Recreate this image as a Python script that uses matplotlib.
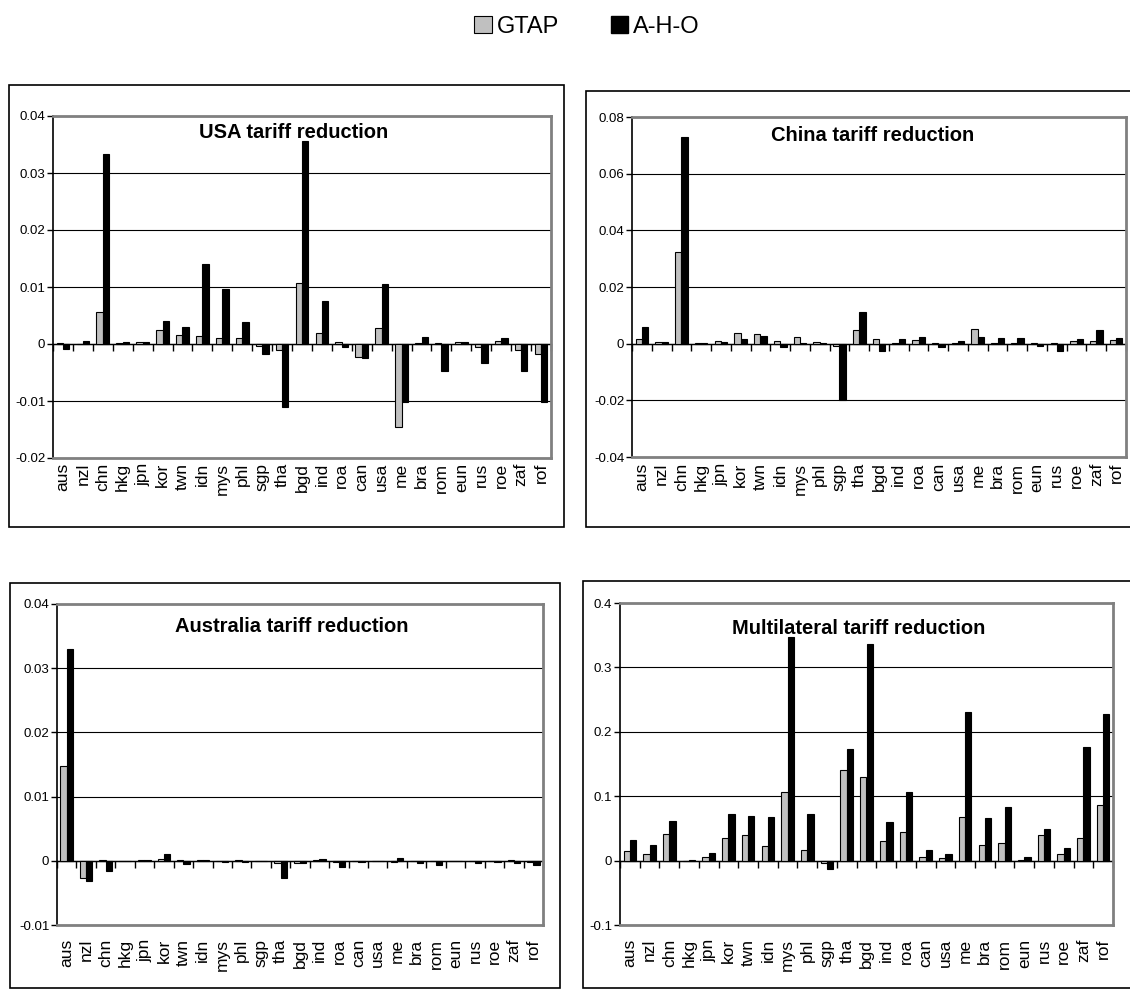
import numpy as np
import matplotlib
matplotlib.use("Agg")
import matplotlib.pyplot as plt
from matplotlib.patches import Patch, Rectangle

plt.rcParams['font.family'] = ['Liberation Sans', 'DejaVu Sans']

regions = ['aus', 'nzl', 'chn', 'hkg', 'jpn', 'kor', 'twn', 'idn', 'mys', 'phl', 'sgp', 'tha', 'bgd',
           'ind', 'roa', 'can', 'usa', 'me', 'bra', 'rom', 'eun', 'rus', 'roe', 'zaf', 'rof']

# USA tariff reduction
usa_gtap = [0.0001, 0.0, 0.0056, 0.0002, 0.0004, 0.0024, 0.0016, 0.0014, 0.0010, 0.0010, -0.0004, -0.0010, 0.0107,
            0.0019, 0.0004, -0.0022, 0.0028, -0.0145, 0.0001, 0.0002, 0.0004, -0.0005, 0.0005, -0.0010, -0.0017]
usa_aho = [-0.0009, 0.0005, 0.0334, 0.0003, 0.0003, 0.0041, 0.0030, 0.0140, 0.0096, 0.0039, -0.0018, -0.0110, 0.0356,
           0.0076, -0.0005, -0.0025, 0.0106, -0.0102, 0.0013, -0.0048, 0.0004, -0.0034, 0.0010, -0.0048, -0.0102]

# China tariff reduction
chn_gtap = [0.0015, 0.0005, 0.0323, 0.0003, 0.0008, 0.0036, 0.0035, 0.0010, 0.0022, 0.0005, -0.0010, 0.0047, 0.0015,
            0.0004, 0.0013, 0.0004, 0.0003, 0.0052, 0.0002, 0.0004, 0.0001, 0.0003, 0.0008, 0.0010, 0.0014]
chn_aho = [0.0058, 0.0006, 0.0731, 0.0003, 0.0006, 0.0017, 0.0027, -0.0012, 0.0003, 0.0004, -0.0200, 0.0113, -0.0025,
           0.0015, 0.0022, -0.0011, 0.0008, 0.0022, 0.0021, 0.0021, -0.0007, -0.0025, 0.0018, 0.0048, 0.0021]

# Australia tariff reduction
aus_gtap = [0.0147, -0.0027, 0.0001, 0.0, 0.0001, 0.0003, 0.0001, 0.0001, 0.0, 0.0001, 0.0, -0.0003, -0.0003,
            0.0001, -0.0002, 0.0, 0.0, -0.0002, -0.0001, -0.0001, 0.0, -0.0001, -0.0001, 0.0002, -0.0002]
aus_aho = [0.0330, -0.0031, -0.0016, 0.0, 0.0002, 0.0011, -0.0005, 0.0001, -0.0002, -0.0002, -0.0001, -0.0027, -0.0004,
           0.0003, -0.0009, -0.0002, -0.0001, 0.0004, -0.0003, -0.0006, 0.0, -0.0004, -0.0002, -0.0004, -0.0007]

# Multilateral tariff reduction
mul_gtap = [0.015, 0.011, 0.042, 0.0, 0.006, 0.035, 0.039, 0.022, 0.107, 0.017, -0.004, 0.140, 0.130,
            0.031, 0.044, 0.006, 0.004, 0.068, 0.025, 0.027, 0.001, 0.040, 0.011, 0.035, 0.086]
mul_aho = [0.032, 0.024, 0.062, 0.001, 0.012, 0.073, 0.070, 0.068, 0.347, 0.072, -0.013, 0.173, 0.337,
           0.060, 0.106, 0.017, 0.011, 0.230, 0.066, 0.083, 0.006, 0.049, 0.019, 0.177, 0.227]

W, H = 1130, 992
fig = plt.figure(figsize=(W / 100, H / 100), dpi=100)

# (title, gtap, aho, ymin, ymax, step, plot px box, outer px box, title pos, label pad)
panels = [
    ("USA tariff reduction", usa_gtap, usa_aho, -0.02, 0.04, 0.01,
     (53, 551, 116, 458), (9, 564, 85, 527), (0.484, 0.953), 3.5),
    ("China tariff reduction", chn_gtap, chn_aho, -0.04, 0.08, 0.02,
     (632, 1126, 117, 457), (586, 1131, 91, 527), (0.487, 0.945), 4),
    ("Australia tariff reduction", aus_gtap, aus_aho, -0.01, 0.04, 0.01,
     (57, 543, 604, 925), (10, 560, 583, 988), (0.483, 0.929), 10),
    ("Multilateral tariff reduction", mul_gtap, mul_aho, -0.1, 0.4, 0.1,
     (620, 1113, 603, 925), (583, 1131, 581, 988), (0.484, 0.922), 10),
]

x = np.arange(len(regions))
bw = 0.32

for title, gtap, aho, ymin, ymax, step, pbox, obox, tpos, pad in panels:
    ox0, ox1, oy0, oy1 = obox
    fig.patches.append(Rectangle((ox0 / W, 1 - oy1 / H), (ox1 - ox0) / W, (oy1 - oy0) / H,
                                 transform=fig.transFigure, fill=False, ec='black', lw=1.2))
    x0, x1, y0, y1 = pbox
    ax = fig.add_axes([x0 / W, 1 - y1 / H, (x1 - x0) / W, (y1 - y0) / H])
    ax.bar(x - bw / 2, gtap, bw, color='#c0c0c0', edgecolor='black', lw=0.8, zorder=3)
    ax.bar(x + bw / 2, aho, bw, color='black', edgecolor='black', lw=0.8, zorder=3)
    ax.set_xlim(-0.5, len(regions) - 0.5)
    ax.set_ylim(ymin, ymax)

    yt = np.round(np.arange(ymin, ymax + step / 2, step), 4)
    ax.set_yticks(yt)
    ax.set_yticklabels([f"{v:g}" if v != 0 else "0" for v in yt], fontsize=9.5)
    ax.tick_params(axis='y', direction='out', length=4, width=1, pad=1.5, colors='black')
    ax.yaxis.grid(True, color='black', lw=0.8)
    ax.set_axisbelow(True)

    ax.set_xticks(x)
    ax.set_xticklabels(regions, rotation=90, fontsize=12.5, va='top')
    ax.tick_params(axis='x', length=0, pad=pad)

    for s in ['top', 'right', 'bottom']:
        ax.spines[s].set_color('#808080')
        ax.spines[s].set_linewidth(2)
    ax.spines['left'].set_color('black')
    ax.spines['left'].set_linewidth(1.2)

    # category axis crossing at zero
    zero = (0 - ymin) / (ymax - ymin)
    sec = ax.secondary_xaxis(zero)
    sec.set_xticks(np.arange(len(regions) + 1) - 0.5)
    sec.set_xticklabels([])
    sec.tick_params(direction='out', length=5, width=1, color='black')
    sec.spines['bottom'].set_color('black')
    sec.spines['bottom'].set_linewidth(1)

    ax.text(tpos[0], tpos[1], title, transform=ax.transAxes, ha='center', va='center',
            fontsize=14.5, fontweight='bold', zorder=5)

fig.legend(handles=[Patch(fc='#c0c0c0', ec='black', lw=0.8), Patch(fc='black', ec='black')],
           labels=['GTAP', 'A-H-O'], loc='center', bbox_to_anchor=(587 / W, 1 - 27 / H),
           ncol=2, frameon=False, fontsize=17, handlelength=0.75, handleheight=0.75,
           handletextpad=0.2, columnspacing=2.2)

fig.savefig("out.png", dpi=100)
